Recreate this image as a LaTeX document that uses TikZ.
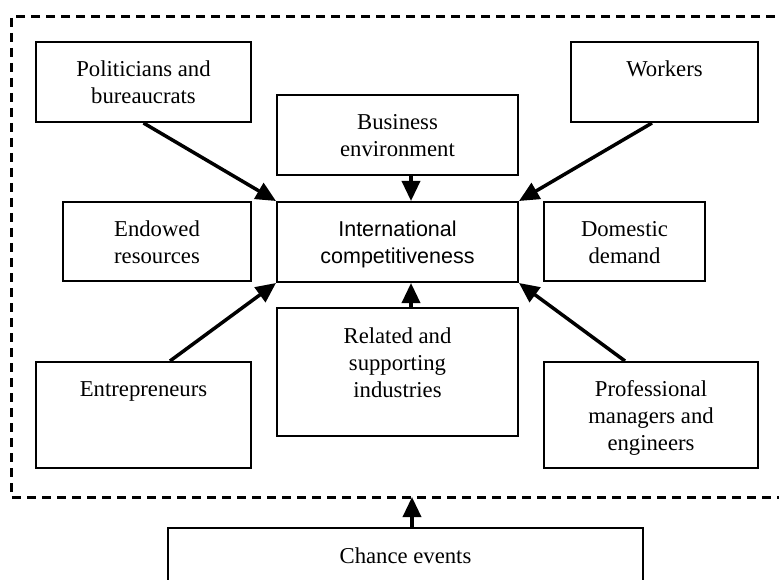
\documentclass[tikz,border=0pt]{standalone}
\usepackage{fontspec}
\setmainfont{Liberation Serif}
\newfontfamily\intlfont{Liberation Sans}
\usetikzlibrary{arrows.meta,calc}
\newcommand{\tstrut}{\rule[-5.1pt]{0pt}{27pt}}
\tikzset{
  box/.style={draw, line width=2pt, inner sep=0pt, align=center,
    font=\fontsize{22.7}{27}\selectfont},
  conn/.style={line width=3.5pt, -{Triangle[length=20pt,width=18pt]}},
  frame/.style={line width=3pt, dash pattern=on 9pt off 6pt}
}
\begin{document}
\begin{tikzpicture}[x=1pt,y=-1pt]
\clip (0,0) rectangle (779,580);
\fill[white] (0,0) rectangle (779,580);
% frame
\draw[frame] (790,17) -- (11,17) -- (11,497) -- (790,497);
\coordinate (framein) at (412,497);
\coordinate (ax) at (411,0);
% boxes
\node[box, minimum width=215pt, minimum height=80pt] (pol) at (143.5,82)
  {\tstrut Politicians and\\\tstrut bureaucrats};
\node[box, minimum width=187pt, minimum height=80pt] (work) at (664.5,82)
  {\tstrut Workers\\\tstrut};
\node[box, minimum width=241pt, minimum height=80pt] (bus) at (397.5,135)
  {\tstrut Business\\\tstrut environment};
\node[box, minimum width=188pt, minimum height=79pt] (endow) at (157,241.5)
  {\tstrut Endowed\\\tstrut resources};
\node[box, minimum width=241pt, minimum height=80pt,
  font=\intlfont\fontsize{21.5}{27}\selectfont] (intl) at (397.5,242)
  {\tstrut International\\\tstrut competitiveness};
\node[box, minimum width=161pt, minimum height=79pt] (dom) at (624.5,241.5)
  {\tstrut Domestic\\\tstrut demand};
\node[box, minimum width=241pt, minimum height=128pt] (rel) at (397.5,372)
  {\tstrut Related and\\\tstrut supporting\\\tstrut industries\\[-1.9pt]\mbox{}};
\node[box, minimum width=215pt, minimum height=106pt] (ent) at (143.5,415)
  {\tstrut Entrepreneurs\\\tstrut\\\tstrut};
\node[box, minimum width=214pt, minimum height=106pt] (prof) at (651,415)
  {\tstrut Professional\\\tstrut managers and\\\tstrut engineers};
\node[box, minimum width=475pt, minimum height=55pt] (chance) at (405.5,555.5)
  {\tstrut Chance events};
% connectors
\draw[conn] (pol.south) -- (intl.north west);
\draw[conn] ($(work.south)+(-12.5,0)$) -- (intl.north east);
\draw[conn] ($(ent.north)+(26.5,0)$) -- (intl.south west);
\draw[conn] ($(prof.north)+(-26,0)$) -- (intl.south east);
\draw[conn] (bus.south -| ax) -- (intl.north -| ax);
\draw[conn] (rel.north -| ax) -- (intl.south -| ax);
\draw[conn] (chance.north -| framein) -- (framein);
\end{tikzpicture}
\end{document}
